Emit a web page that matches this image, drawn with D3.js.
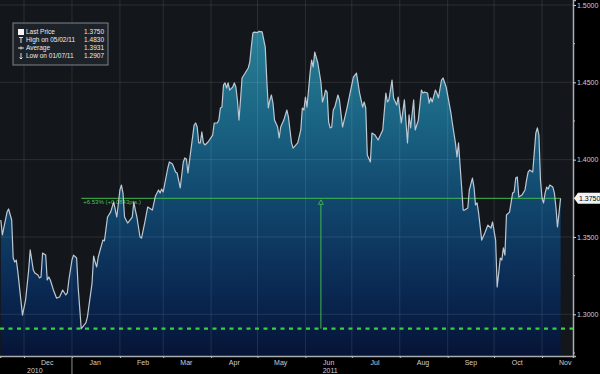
<!DOCTYPE html>
<html>
<head>
<meta charset="utf-8">
<script src="https://cdn.jsdelivr.net/npm/d3@7"></script>
<style>
  html, body { margin: 0; padding: 0; background: #000; }
  svg { display: block; font-family: "Liberation Sans", Arial, sans-serif; }
</style>
</head>
<body>
<svg id="chart" width="600" height="374"></svg>
<script>
// price series
const dates = [
  "2010-11-16","2010-11-17","2010-11-20","2010-11-21","2010-11-23","2010-11-24","2010-11-25","2010-11-26","2010-11-27","2010-11-30",
  "2010-12-02","2010-12-04","2010-12-05","2010-12-06","2010-12-07","2010-12-08","2010-12-10","2010-12-11","2010-12-12","2010-12-13","2010-12-15","2010-12-16","2010-12-17","2010-12-18","2010-12-20","2010-12-22","2010-12-24","2010-12-26","2010-12-28","2010-12-29","2010-12-30",
  "2011-01-01","2011-01-02","2011-01-04","2011-01-05","2011-01-07","2011-01-10","2011-01-11","2011-01-14","2011-01-15","2011-01-16","2011-01-17","2011-01-18","2011-01-21","2011-01-22","2011-01-24","2011-01-26","2011-01-28","2011-01-30",
  "2011-02-01","2011-02-02","2011-02-03","2011-02-04","2011-02-06","2011-02-09","2011-02-10","2011-02-11","2011-02-12","2011-02-14","2011-02-15","2011-02-17","2011-02-19","2011-02-22","2011-02-24","2011-02-26","2011-02-27","2011-02-28",
  "2011-03-01","2011-03-04","2011-03-05","2011-03-07","2011-03-09","2011-03-10","2011-03-12","2011-03-14","2011-03-15","2011-03-16","2011-03-17","2011-03-20","2011-03-21","2011-03-22","2011-03-23","2011-03-24","2011-03-25","2011-03-26","2011-03-27","2011-03-28","2011-03-30",
  "2011-04-02","2011-04-03","2011-04-05","2011-04-06","2011-04-07","2011-04-08","2011-04-09","2011-04-10","2011-04-11","2011-04-12","2011-04-13","2011-04-15","2011-04-16","2011-04-17","2011-04-18","2011-04-19","2011-04-20","2011-04-21","2011-04-23","2011-04-25","2011-04-26","2011-04-27","2011-04-28","2011-04-29",
  "2011-05-01","2011-05-02","2011-05-04","2011-05-06","2011-05-07","2011-05-08","2011-05-09","2011-05-10","2011-05-11","2011-05-12","2011-05-14","2011-05-15","2011-05-16","2011-05-18","2011-05-20","2011-05-21","2011-05-23","2011-05-24","2011-05-27","2011-05-29","2011-05-30","2011-05-31",
  "2011-06-01","2011-06-02","2011-06-04","2011-06-05","2011-06-06","2011-06-07","2011-06-09","2011-06-11","2011-06-12","2011-06-13","2011-06-14","2011-06-15","2011-06-16","2011-06-17","2011-06-18","2011-06-19","2011-06-20","2011-06-22","2011-06-23","2011-06-25","2011-06-28","2011-06-30",
  "2011-07-02","2011-07-04","2011-07-06","2011-07-08","2011-07-09","2011-07-10","2011-07-11","2011-07-13","2011-07-14","2011-07-16","2011-07-18","2011-07-21","2011-07-23","2011-07-24","2011-07-25","2011-07-27","2011-07-28","2011-07-30","2011-07-31",
  "2011-08-02","2011-08-04","2011-08-06","2011-08-07","2011-08-08","2011-08-10","2011-08-11","2011-08-13","2011-08-15","2011-08-16","2011-08-17","2011-08-19","2011-08-20","2011-08-21","2011-08-22","2011-08-24","2011-08-25","2011-08-26","2011-08-28","2011-08-29","2011-08-31",
  "2011-09-03","2011-09-04","2011-09-06","2011-09-07","2011-09-08","2011-09-10","2011-09-11","2011-09-12","2011-09-14","2011-09-15","2011-09-17","2011-09-18","2011-09-19","2011-09-20","2011-09-21","2011-09-23","2011-09-25","2011-09-27","2011-09-29","2011-09-30",
  "2011-10-02","2011-10-03","2011-10-04","2011-10-05","2011-10-06","2011-10-07","2011-10-08","2011-10-09","2011-10-11","2011-10-13","2011-10-14","2011-10-15","2011-10-16","2011-10-17","2011-10-19","2011-10-21","2011-10-22","2011-10-23","2011-10-24","2011-10-26","2011-10-28","2011-10-29","2011-10-30","2011-10-31",
  "2011-11-01","2011-11-02","2011-11-03","2011-11-04","2011-11-05","2011-11-06","2011-11-08","2011-11-09","2011-11-10","2011-11-11","2011-11-12","2011-11-13"
];
const prices = [
  1.3610,1.3513,1.3661,1.3681,1.3610,1.3364,1.3338,1.3351,1.3274,1.2995,
  1.3092,1.3286,1.3416,1.3351,1.3286,1.3267,1.3254,1.3235,1.3241,1.3396,1.3383,1.3222,1.3241,1.3222,1.3157,1.3105,1.3112,1.3157,1.3125,1.3138,1.3222,
  1.3351,1.3383,1.3364,1.3177,1.2907,1.2944,1.2983,1.3202,1.3377,1.3338,1.3306,1.3371,1.3480,1.3475,1.3629,1.3661,1.3726,1.3629,
  1.3804,1.3836,1.3784,1.3629,1.3590,1.3629,1.3726,1.3674,1.3629,1.3500,1.3493,1.3590,1.3694,1.3674,1.3765,1.3804,1.3784,1.3810,
  1.3791,1.3946,1.3985,1.3972,1.3920,1.3914,1.3817,1.3985,1.4011,1.4004,1.3914,1.4146,1.4224,1.4237,1.4211,1.4108,1.4108,1.4179,1.4108,1.4095,1.4114,
  1.4159,1.4237,1.4237,1.4256,1.4334,1.4340,1.4483,1.4496,1.4463,1.4496,1.4450,1.4470,1.4496,1.4470,1.4386,1.4256,1.4386,1.4528,1.4560,1.4593,1.4631,1.4728,1.4819,1.4825,
  1.4822,1.4830,1.4826,1.4728,1.4515,1.4334,1.4386,1.4418,1.4366,1.4256,1.4211,1.4140,1.4211,1.4256,1.4321,1.4276,1.4108,1.4075,1.4108,1.4192,1.4334,1.4321,
  1.4405,1.4340,1.4560,1.4644,1.4599,1.4696,1.4625,1.4502,1.4373,1.4405,1.4450,1.4437,1.4243,1.4205,1.4211,1.4321,1.4340,1.4418,1.4386,1.4211,1.4340,1.4437,
  1.4534,1.4560,1.4431,1.4340,1.4373,1.4334,1.4030,1.3985,1.4172,1.4159,1.4127,1.4192,1.4431,1.4373,1.4386,1.4515,1.4399,1.4353,1.4405,
  1.4237,1.4386,1.4108,1.4289,1.4205,1.4386,1.4192,1.4256,1.4450,1.4431,1.4437,1.4431,1.4366,1.4399,1.4373,1.4450,1.4431,1.4399,1.4515,1.4528,1.4470,
  1.4308,1.4237,1.4108,1.4017,1.4108,1.3823,1.3674,1.3674,1.3687,1.3804,1.3881,1.3823,1.3707,1.3720,1.3655,1.3480,1.3526,1.3577,1.3558,1.3597,
  1.3480,1.3177,1.3267,1.3364,1.3351,1.3429,1.3383,1.3642,1.3661,1.3784,1.3791,1.3881,1.3888,1.3758,1.3771,1.3804,1.3868,1.3920,1.3933,1.3920,1.4172,1.4205,1.4159,1.3868,
  1.3752,1.3720,1.3784,1.3823,1.3810,1.3836,1.3823,1.3784,1.3694,1.3565,1.3655,1.3750
];

const yTicks = [1.30, 1.35, 1.40, 1.45, 1.50];
const yMinorTicks = [1.275, 1.325, 1.375, 1.425, 1.475];
const yearLabels = [{ text: "2010", date: "2010-12-08" }, { text: "2011", date: "2011-06-17" }];

const lastPrice = 1.3750;
const highPrice = 1.4830, highDate = "05/02/11";
const avgPrice = 1.3931;
const lowPrice = 1.2907, lowDate = "2011-01-07";

const legendRows = [
  { icon: "square", label: "Last Price", value: lastPrice },
  { icon: "high", label: "High on " + highDate, value: highPrice },
  { icon: "avg", label: "Average", value: avgPrice },
  { icon: "low", label: "Low on 01/07/11", value: lowPrice }
];

const W = 600, H = 374;
const plotRight = 573, plotBottom = 356;
const parse = d3.timeParse("%Y-%m-%d");
const data = dates.map((d, i) => ({ date: parse(d), price: prices[i] }));
const fmt4 = d3.format(".4f");

const svg = d3.select("#chart");

const x = d3.scaleTime()
  .domain([new Date(2010, 10, 15, 11), new Date(2011, 10, 21, 1)])
  .range([0, plotRight]);
const y = d3.scaleLinear()
  .domain([1.27304, 1.50323])
  .range([plotBottom, 0]);

// backgrounds
svg.append("rect").attr("width", W).attr("height", H).attr("fill", "#000");
svg.append("rect").attr("width", plotRight).attr("height", plotBottom).attr("fill", "#13171b");

const defs = svg.append("defs");
const grad = defs.append("linearGradient")
  .attr("id", "areaFill")
  .attr("gradientUnits", "userSpaceOnUse")
  .attr("x1", 0).attr("x2", 0)
  .attr("y1", y(1.49)).attr("y2", plotBottom);
[[0, "#2b8297"], [0.3, "#1a6483"], [0.55, "#11466c"], [0.8, "#0a2953"], [1, "#061436"]]
  .forEach(([o, c]) => grad.append("stop").attr("offset", o).attr("stop-color", c));

// area under the price
const area = d3.area()
  .x(d => x(d.date))
  .y0(plotBottom)
  .y1(d => y(d.price));
svg.append("path").datum(data).attr("d", area).attr("fill", "url(#areaFill)");

// grid
const monthStarts = d3.timeMonth.range(new Date(2010, 11, 1), new Date(2011, 10, 2));
svg.append("g").selectAll("line").data(monthStarts).join("line")
  .attr("x1", d => x(d)).attr("x2", d => x(d))
  .attr("y1", 0).attr("y2", plotBottom)
  .attr("stroke", "#ffffff").attr("stroke-opacity", 0.1).attr("stroke-width", 1);
svg.append("g").selectAll("line").data(yTicks).join("line")
  .attr("x1", 0).attr("x2", plotRight)
  .attr("y1", d => y(d)).attr("y2", d => y(d))
  .attr("stroke", "#ffffff").attr("stroke-opacity", 0.1).attr("stroke-width", 1);

// low price dashed line
svg.append("line")
  .attr("x1", 0).attr("x2", plotRight)
  .attr("y1", y(lowPrice)).attr("y2", y(lowPrice))
  .attr("stroke", "#33d23e").attr("stroke-width", 2.2)
  .attr("stroke-dasharray", "4,4.5");

// change annotation from the low to the last price
const x0 = x(parse(lowDate));
const x1 = x(data[data.length - 1].date);
const xm = (x0 + x1) / 2;
const ann = svg.append("g").attr("stroke", "#41b84c").attr("fill", "none");
ann.append("line").attr("x1", x0).attr("x2", x1)
  .attr("y1", y(lastPrice)).attr("y2", y(lastPrice)).attr("stroke-width", 1);
ann.append("line").attr("x1", xm).attr("x2", xm)
  .attr("y1", y(lastPrice) + 6).attr("y2", y(lowPrice)).attr("stroke-width", 1);
ann.append("path")
  .attr("d", `M${xm},${y(lastPrice) + 1.5} L${xm + 2.5},${y(lastPrice) + 6} L${xm - 2.5},${y(lastPrice) + 6} Z`)
  .attr("stroke-width", 0.9);
const diff = lastPrice - lowPrice;
svg.append("text")
  .attr("x", x0 + 2).attr("y", y(lastPrice) + 5.5)
  .attr("fill", "#47c451").attr("font-size", 6)
  .text(`+${d3.format(".2f")(diff / lowPrice * 100)}% (+${fmt4(diff)}pts.)`);

// price line
const line = d3.line().x(d => x(d.date)).y(d => y(d.price));
svg.append("path").datum(data).attr("d", line)
  .attr("fill", "none").attr("stroke", "#bcc8d3").attr("stroke-width", 1.2)
  .attr("stroke-linejoin", "round");

// right axis
const yAxis = d3.axisRight(y).tickValues(yTicks).tickFormat(fmt4).tickSize(3).tickPadding(1);
const ya = svg.append("g").attr("transform", `translate(${plotRight},0)`).call(yAxis);
ya.select(".domain").attr("stroke", "#a9adb2").attr("stroke-width", 1.5);
ya.selectAll(".tick line").attr("stroke", "#d0d0d0");
ya.selectAll(".tick text").attr("fill", "#cfcfcf").attr("font-size", 7)
  .attr("font-family", "Liberation Sans, Arial, sans-serif");
ya.append("g").selectAll("line").data(yMinorTicks).join("line")
  .attr("x1", 0).attr("x2", 2).attr("y1", d => y(d)).attr("y2", d => y(d))
  .attr("stroke", "#bbbbbb");

// last price tag
const ty = y(lastPrice);
svg.append("path")
  .attr("d", `M${plotRight + 1},${ty} L${plotRight + 5},${ty - 5.5} L${W},${ty - 5.5} L${W},${ty + 5.5} L${plotRight + 5},${ty + 5.5} Z`)
  .attr("fill", "#f2f2f2");
svg.append("text").attr("x", plotRight + 6).attr("y", ty + 2.5)
  .attr("fill", "#000").attr("font-size", 7).text(fmt4(lastPrice));

// bottom axis
const xAxis = d3.axisBottom(x).tickValues(monthStarts).tickFormat("").tickSize(2);
const xa = svg.append("g").attr("transform", `translate(0,${plotBottom})`).call(xAxis);
xa.select(".domain").attr("stroke", "#a9adb2").attr("stroke-width", 1.5);
xa.selectAll(".tick line").attr("stroke", "#bbbbbb");

const monthMids = monthStarts.map(d => d3.timeDay.offset(d, 15));
svg.append("g").selectAll("text").data(monthMids).join("text")
  .attr("x", d => x(d)).attr("y", plotBottom + 9)
  .attr("text-anchor", "middle").attr("fill", "#cfcfcf").attr("font-size", 7)
  .text(d => d3.timeFormat("%b")(d));
svg.append("g").selectAll("text").data(yearLabels).join("text")
  .attr("x", d => x(parse(d.date))).attr("y", plotBottom + 17)
  .attr("text-anchor", "middle").attr("fill", "#cfcfcf").attr("font-size", 7)
  .text(d => d.text);
svg.append("line")
  .attr("x1", x(new Date(2011, 0, 1))).attr("x2", x(new Date(2011, 0, 1)))
  .attr("y1", plotBottom).attr("y2", H)
  .attr("stroke", "#8a8f94").attr("stroke-width", 1);

// legend
const lg = svg.append("g").attr("transform", "translate(13,23)");
lg.append("rect").attr("width", 95).attr("height", 42)
  .attr("fill", "#1d2228").attr("stroke", "#7d838a").attr("stroke-width", 1);
const rows = lg.selectAll("g.row").data(legendRows).join("g")
  .attr("class", "row")
  .attr("transform", (d, i) => `translate(0,${9 + i * 8})`);
rows.append("text").attr("x", 13).attr("y", 2.3)
  .attr("fill", "#ececec").attr("font-size", 6.5).text(d => d.label);
rows.append("text").attr("x", 91).attr("y", 2.3).attr("text-anchor", "end")
  .attr("fill", "#ececec").attr("font-size", 6.5).text(d => fmt4(d.value));
rows.each(function (d) {
  const g = d3.select(this);
  if (d.icon === "square") {
    g.append("rect").attr("x", 5).attr("y", -3).attr("width", 6).attr("height", 6).attr("fill", "#f4f4f4");
  } else if (d.icon === "high") {
    g.append("path").attr("d", "M6,-2.5 L10,-2.5 M8,-2.5 L8,3").attr("stroke", "#eee").attr("stroke-width", 0.9);
  } else if (d.icon === "avg") {
    g.append("path").attr("d", "M5,0 L11,0 M8,-1.5 L8,1.5").attr("stroke", "#eee").attr("stroke-width", 0.9);
  } else {
    g.append("path").attr("d", "M8,-3 L8,3 M6.5,1.5 L8,3 L9.5,1.5").attr("stroke", "#eee").attr("stroke-width", 0.9).attr("fill", "none");
  }
});
</script>
</body>
</html>
